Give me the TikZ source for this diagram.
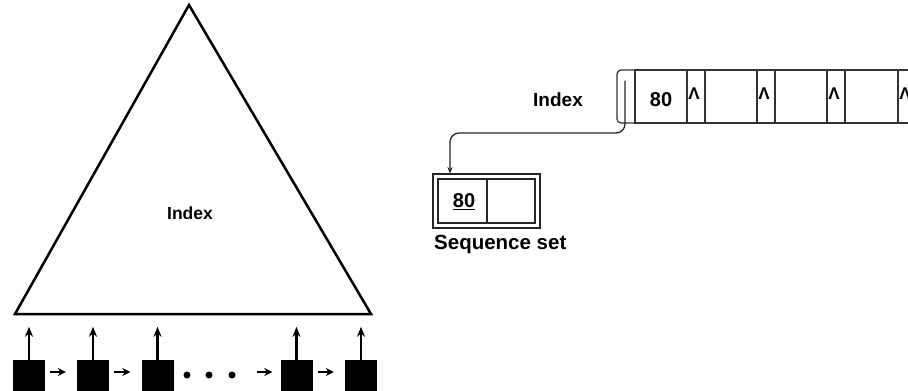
\documentclass[tikz,border=0pt]{standalone}
\usepackage{fontspec}
\setmainfont{Liberation Sans}
\usetikzlibrary{arrows.meta}
\begin{document}
\begin{tikzpicture}[x=1pt,y=-1pt,
  lbl/.style={font=\bfseries\fontsize{18}{22}\selectfont, inner sep=0pt},
  leaf/.style={fill=black, inner sep=0pt, minimum width=32pt, minimum height=32pt},
  uparrow/.style={line width=2.6pt, -{Stealth[length=10pt,width=8pt]}},
  nextarrow/.style={line width=2.6pt, -{Stealth[length=8pt,width=8pt]}},
  dotmark/.style={circle, fill=black, inner sep=0pt, minimum size=7pt},
  cell/.style={draw=black!80, line width=1.2pt, inner sep=0pt, outer sep=0pt,
    minimum height=53pt, anchor=north west},
  ptrcell/.style={cell, minimum width=18pt},
  keycell/.style={cell, minimum width=52pt},
  lam/.style={font=\bfseries\fontsize{17}{20}\selectfont, inner sep=0pt},
  seqline/.style={draw=black!85, line width=1.4pt, inner sep=0pt, outer sep=0pt}
]
\useasboundingbox (0,0) rectangle (908,391);

% ---------- B+ tree: index triangle over the sequence set ----------
\coordinate (apex) at (189,5);
\coordinate (bl) at (15,314);
\coordinate (br) at (371,314);
\draw[line width=2.5pt, line join=miter] (apex) -- (br) -- (bl) -- cycle;
\node[lbl, font=\bfseries\fontsize{17.5}{21}\selectfont] (tindex) at (190,213) {Index};

\node[leaf] (s1) at (29,376) {};
\node[leaf] (s2) at (93,376) {};
\node[leaf] (s3) at (157.5,376) {};
\node[leaf] (s4) at (296.5,376) {};
\node[leaf] (s5) at (361,376) {};

\foreach \s in {s1,s2,s3,s4,s5}
  \draw[uparrow] (\s.north) -- ++(0,-33);

\draw[nextarrow] ([shift={(5,-4)}]s1.east) -- ([shift={(-11,-4)}]s2.west);
\draw[nextarrow] ([shift={(5,-4)}]s2.east) -- ([shift={(-11,-4)}]s3.west);
\node[dotmark] (d1) at (187,375) {};
\node[dotmark] (d2) at (209,375) {};
\node[dotmark] (d3) at (232,375) {};
\coordinate (gapend) at (257,372);
\draw[nextarrow] (gapend) -- ([shift={(-8,-4)}]s4.west);
\draw[nextarrow] ([shift={(5,-4)}]s4.east) -- ([shift={(-11,-4)}]s5.west);

% ---------- Index node and sequence set record ----------
\node[lbl, font=\bfseries\fontsize{19}{22}\selectfont] (rindex) at (558,100) {Index};

\node[cell, minimum width=18pt, draw=none] (p0) at (617,70) {};
\draw[draw=black!80, line width=1.2pt, rounded corners=4pt]
  (p0.north east) -- (p0.north west) -- (p0.south west) -- (p0.south east);
\node[keycell] (k1) at (635,70) {};
\node[ptrcell] (p1) at (687,70) {};
\node[keycell] (k2) at (705,70) {};
\node[ptrcell] (p2) at (757,70) {};
\node[keycell] (k3) at (775,70) {};
\node[ptrcell] (p3) at (827,70) {};
\node[keycell, minimum width=53pt] (k4) at (845,70) {};
\node[ptrcell] (p4) at (898,70) {};

\node[lbl, font=\bfseries\fontsize{20}{24}\selectfont] (k1txt) at ([yshift=-3]k1.center) {80};
\foreach \p in {p1,p2,p3,p4}
  \node[lam] at ([shift={(-2,-3)}]\p.center) {Λ};

\node[seqline, minimum width=107pt, minimum height=54pt] (seqo) at (486.5,201) {};
\node[seqline, minimum width=49pt, minimum height=44pt, anchor=north west] (sk) at (438,179) {};
\node[seqline, minimum width=48pt, minimum height=44pt, anchor=north west] (sv) at (487,179) {};
\draw[line width=2.2pt, black!85] (sk.south west) -- (sv.south east);
\node[lbl, font=\bfseries\fontsize{20}{24}\selectfont] (sktxt) at (464,202) {\underline{80}};
\node[lbl, anchor=west, font=\bfseries\fontsize{20.5}{24}\selectfont] (seqlbl) at (434,244) {Sequence set};

\coordinate (pstart) at ([shift={(-1,-16)}]p0.center);
\coordinate (bend) at (450,133);
\draw[line width=1.3pt, black!85, rounded corners=9pt, -{Stealth[length=7pt,width=5pt]}]
  (pstart) |- (bend) -- (bend |- seqo.north);
\end{tikzpicture}
\end{document}
